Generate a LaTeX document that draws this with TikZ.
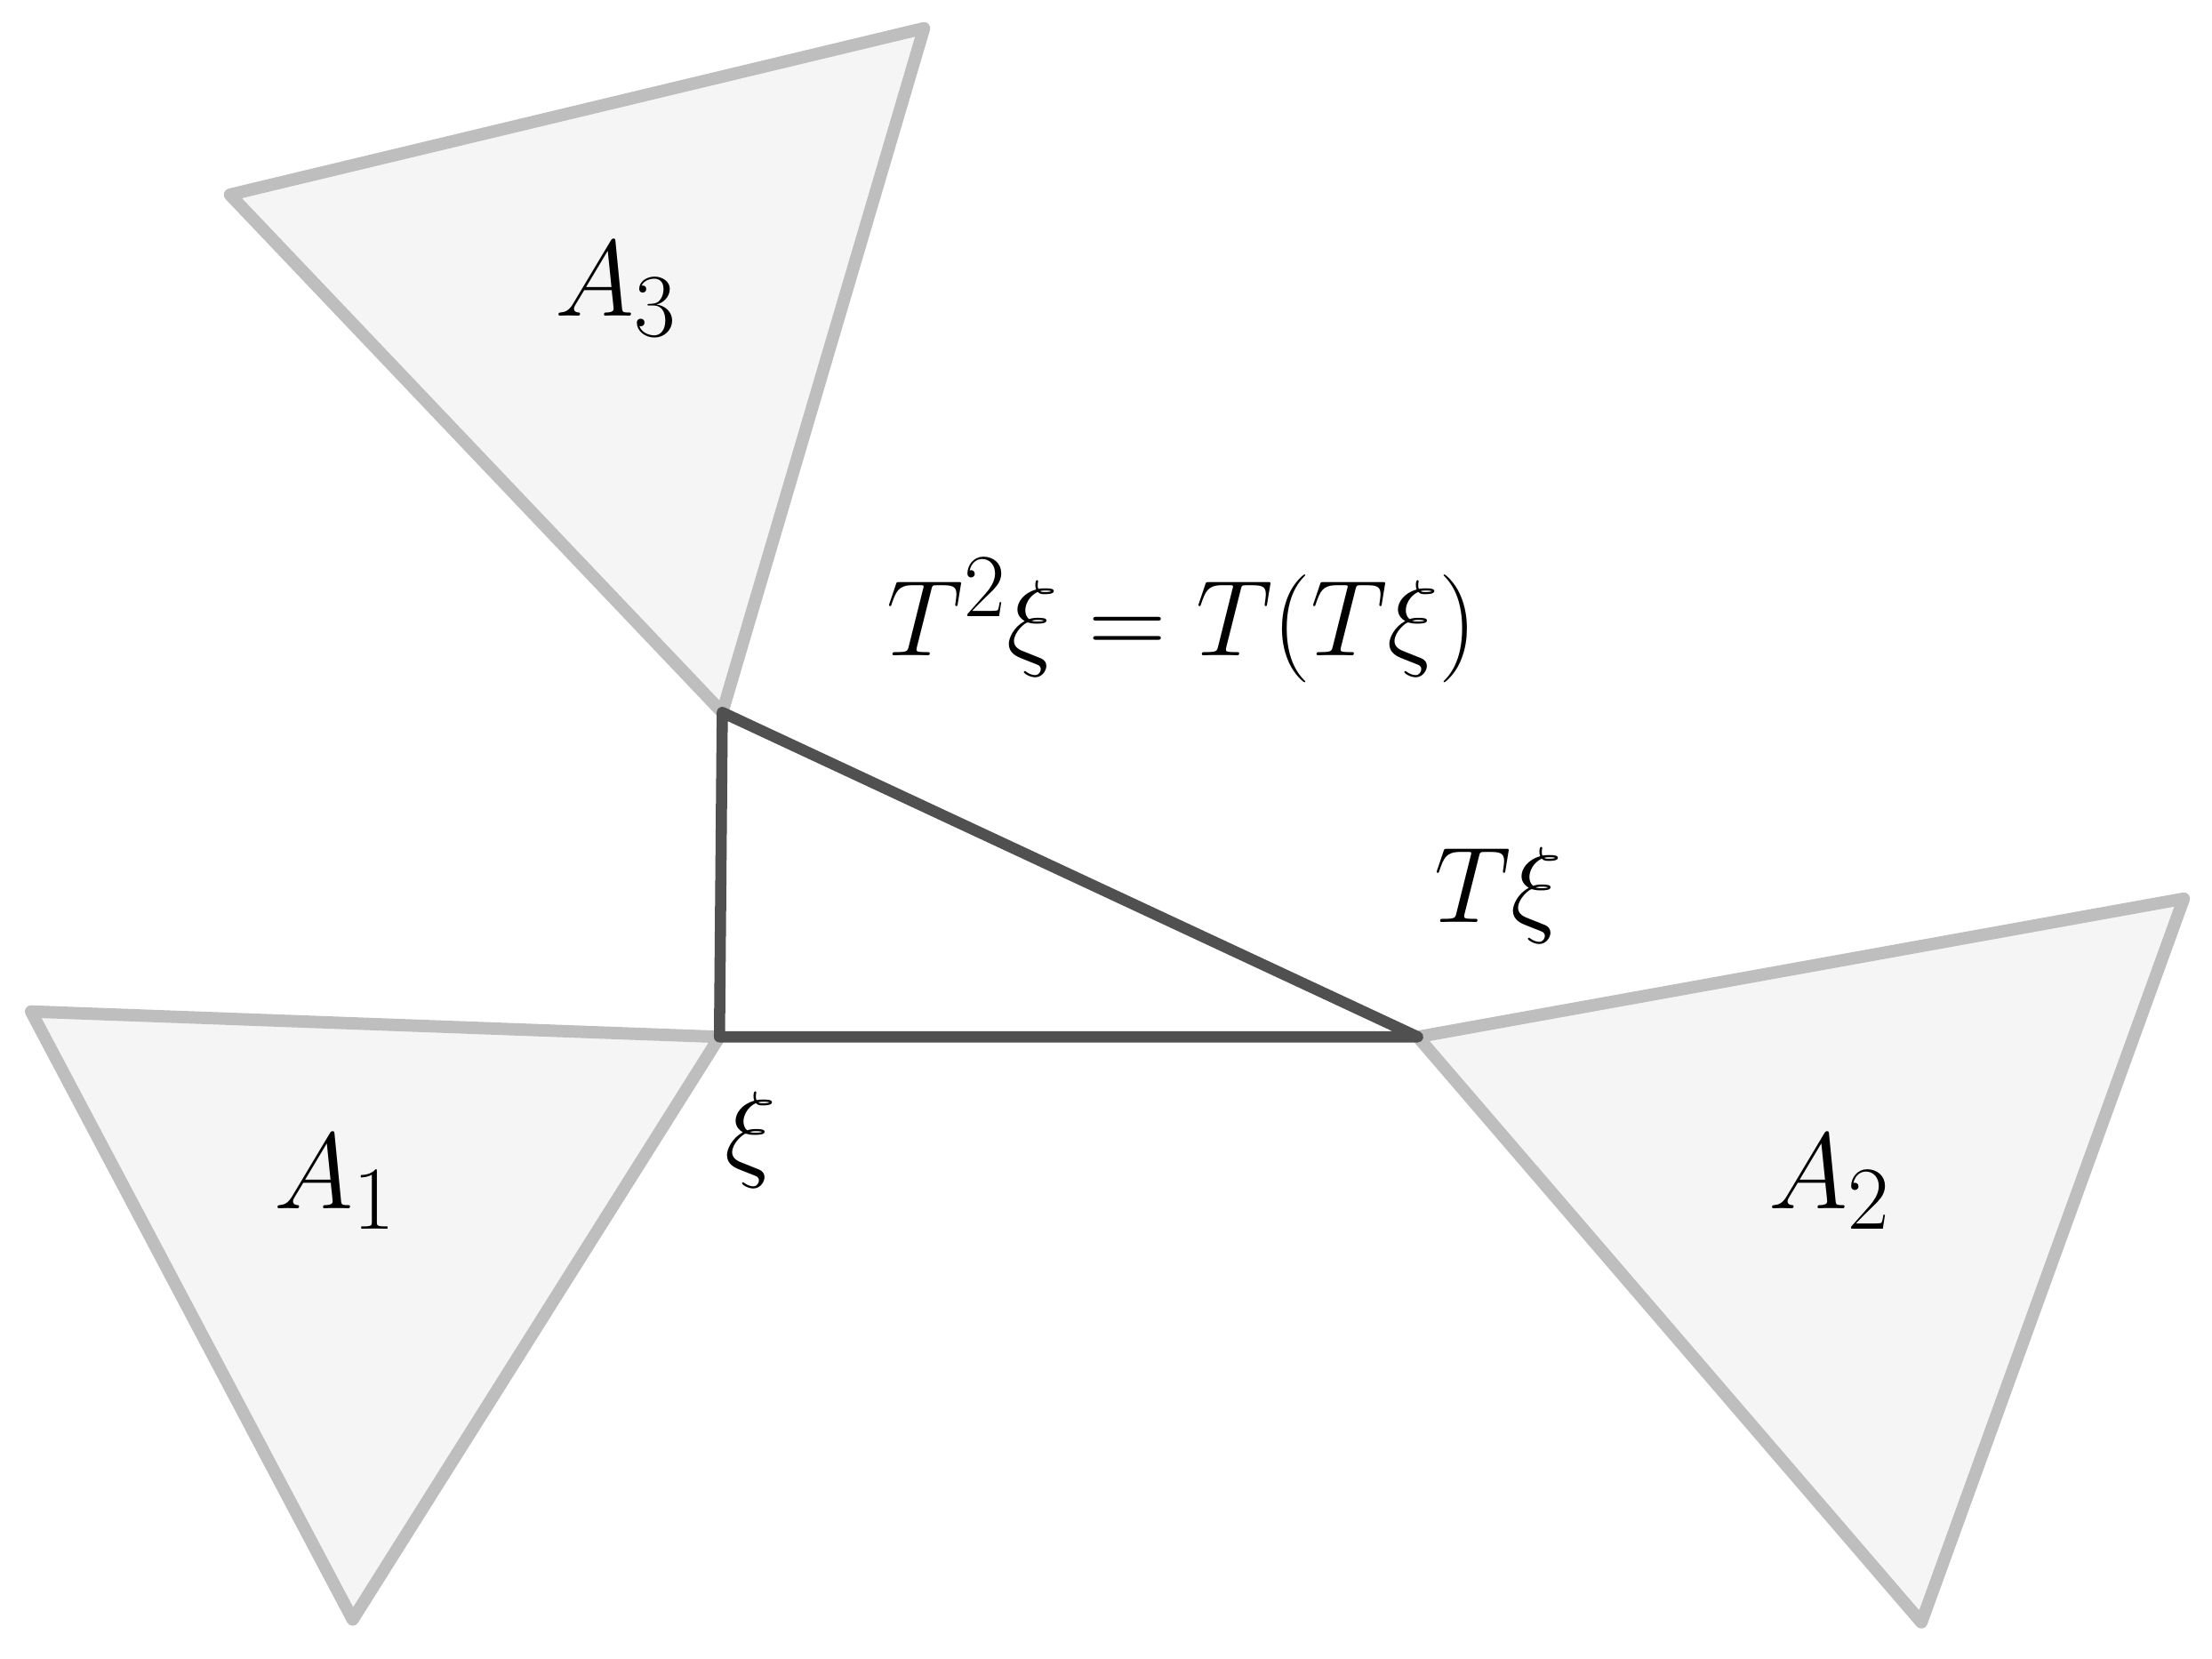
\documentclass[tikz,border=0pt]{standalone}
\begin{document}
\begin{tikzpicture}[x=0.02cm,y=-0.02cm,
  tri/.style={draw={rgb,255:red,190;green,190;blue,190},fill={rgb,255:red,245;green,245;blue,245},line width=5pt,line join=round},
  dk/.style={draw={rgb,255:red,80;green,80;blue,80},line width=4.5pt,line join=round},
  lab/.style={font=\fontsize{30}{36}\selectfont,scale=1.75}]
\useasboundingbox (0,0) rectangle (1568,1176);
\coordinate (x) at (510,735);
\coordinate (t) at (1005,735);
\coordinate (tt) at (512,505);
\draw[tri] (163,138) -- (655,20) -- (tt) -- cycle;
\draw[tri] (22,717) -- (x) -- (250,1148) -- cycle;
\draw[tri] (t) -- (1548,637) -- (1362,1150) -- cycle;
\draw[dk] (x) -- (t) -- (tt) -- cycle;
\node[lab] (a3) at (437,205) {$A_3$};
\node[lab] (a1) at (238,838) {$A_1$};
\node[lab] (a2) at (1297,838) {$A_2$};
\node[lab] (lx) at (532,808) {$\xi$};
\node[lab] (lt) at (1062,635) {$T\xi$};
\node[lab] (ltt) at (838,440) {$T^2\xi=T(T\xi)$};
\end{tikzpicture}
\end{document}
